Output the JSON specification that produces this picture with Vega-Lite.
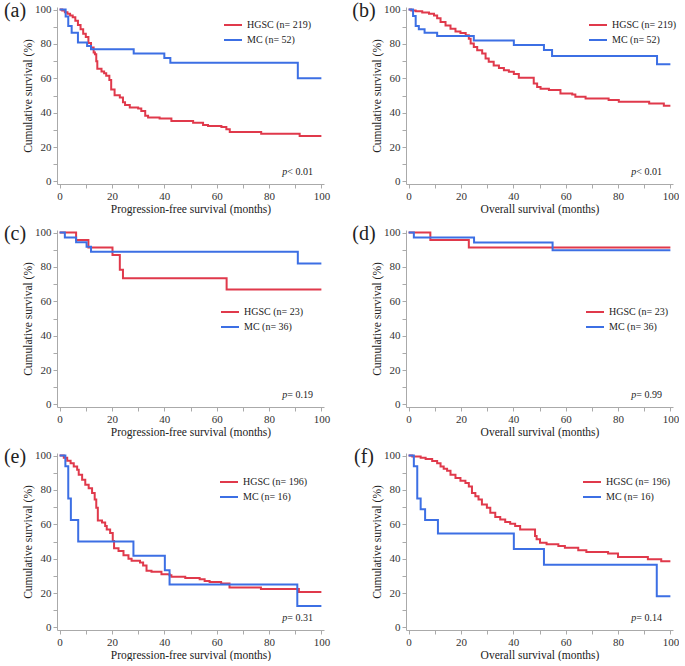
{
"$schema": "https://vega.github.io/schema/vega-lite/v6.json",
"padding": {"left": 3, "top": 1, "right": 0, "bottom": 0},
"background": "white",
"datasets": {
"surv": [
{"panel":"a","group":"HGSC","t":0,"s":100},{"panel":"a","group":"HGSC","t":1,"s":99.5},{"panel":"a","group":"HGSC","t":2,"s":98.5},{"panel":"a","group":"HGSC","t":3,"s":97.5},{"panel":"a","group":"HGSC","t":4,"s":96.5},{"panel":"a","group":"HGSC","t":5,"s":95.5},{"panel":"a","group":"HGSC","t":6,"s":93.5},{"panel":"a","group":"HGSC","t":7,"s":91},{"panel":"a","group":"HGSC","t":8,"s":88.5},{"panel":"a","group":"HGSC","t":9,"s":86},{"panel":"a","group":"HGSC","t":10,"s":84},{"panel":"a","group":"HGSC","t":11,"s":80.5},{"panel":"a","group":"HGSC","t":12,"s":78},{"panel":"a","group":"HGSC","t":13,"s":75},{"panel":"a","group":"HGSC","t":13.5,"s":74},{"panel":"a","group":"HGSC","t":14,"s":70},{"panel":"a","group":"HGSC","t":14.4,"s":65.5},{"panel":"a","group":"HGSC","t":16,"s":64},{"panel":"a","group":"HGSC","t":17,"s":63},{"panel":"a","group":"HGSC","t":17.8,"s":61.5},{"panel":"a","group":"HGSC","t":19,"s":59},{"panel":"a","group":"HGSC","t":19.7,"s":53.5},{"panel":"a","group":"HGSC","t":21,"s":50.2},{"panel":"a","group":"HGSC","t":23,"s":48.8},{"panel":"a","group":"HGSC","t":24.2,"s":46},{"panel":"a","group":"HGSC","t":25,"s":44.4},{"panel":"a","group":"HGSC","t":26.8,"s":43},{"panel":"a","group":"HGSC","t":30,"s":42.5},{"panel":"a","group":"HGSC","t":31.2,"s":41},{"panel":"a","group":"HGSC","t":32.7,"s":38.2},{"panel":"a","group":"HGSC","t":33.8,"s":37.2},{"panel":"a","group":"HGSC","t":38.2,"s":36.6},{"panel":"a","group":"HGSC","t":42.7,"s":35.2},{"panel":"a","group":"HGSC","t":51,"s":34.2},{"panel":"a","group":"HGSC","t":54.8,"s":32.9},{"panel":"a","group":"HGSC","t":56.7,"s":32.3},{"panel":"a","group":"HGSC","t":61.8,"s":31.6},{"panel":"a","group":"HGSC","t":63.7,"s":30.3},{"panel":"a","group":"HGSC","t":65,"s":28.8},{"panel":"a","group":"HGSC","t":77,"s":27.8},{"panel":"a","group":"HGSC","t":91.7,"s":26.4},{"panel":"a","group":"HGSC","t":100,"s":26.4},
{"panel":"a","group":"MC","t":0,"s":100},{"panel":"a","group":"MC","t":2.3,"s":96},{"panel":"a","group":"MC","t":3.3,"s":90.4},{"panel":"a","group":"MC","t":4.6,"s":86.5},{"panel":"a","group":"MC","t":7,"s":80.8},{"panel":"a","group":"MC","t":10.5,"s":78.8},{"panel":"a","group":"MC","t":12,"s":76.9},{"panel":"a","group":"MC","t":28.3,"s":74.5},{"panel":"a","group":"MC","t":40,"s":71.8},{"panel":"a","group":"MC","t":42.3,"s":69},{"panel":"a","group":"MC","t":91,"s":60},{"panel":"a","group":"MC","t":100,"s":60},
{"panel":"b","group":"HGSC","t":0,"s":100},{"panel":"b","group":"HGSC","t":1,"s":99.5},{"panel":"b","group":"HGSC","t":2.7,"s":99},{"panel":"b","group":"HGSC","t":5.2,"s":98.3},{"panel":"b","group":"HGSC","t":7.8,"s":97.5},{"panel":"b","group":"HGSC","t":9.7,"s":96.5},{"panel":"b","group":"HGSC","t":10.9,"s":95},{"panel":"b","group":"HGSC","t":12.2,"s":92.7},{"panel":"b","group":"HGSC","t":14.1,"s":90.8},{"panel":"b","group":"HGSC","t":16,"s":88.8},{"panel":"b","group":"HGSC","t":17.9,"s":87.3},{"panel":"b","group":"HGSC","t":19.8,"s":86.3},{"panel":"b","group":"HGSC","t":21.8,"s":85},{"panel":"b","group":"HGSC","t":23,"s":83},{"panel":"b","group":"HGSC","t":23.7,"s":80.2},{"panel":"b","group":"HGSC","t":24.9,"s":78.2},{"panel":"b","group":"HGSC","t":26.2,"s":76.3},{"panel":"b","group":"HGSC","t":28.1,"s":74.4},{"panel":"b","group":"HGSC","t":29.4,"s":71.5},{"panel":"b","group":"HGSC","t":30.6,"s":69.6},{"panel":"b","group":"HGSC","t":32.5,"s":67.5},{"panel":"b","group":"HGSC","t":34.5,"s":66},{"panel":"b","group":"HGSC","t":36.4,"s":64.7},{"panel":"b","group":"HGSC","t":38.3,"s":63.8},{"panel":"b","group":"HGSC","t":40.2,"s":62.5},{"panel":"b","group":"HGSC","t":42.1,"s":60.3},{"panel":"b","group":"HGSC","t":47.8,"s":57},{"panel":"b","group":"HGSC","t":49.1,"s":55},{"panel":"b","group":"HGSC","t":50.4,"s":54},{"panel":"b","group":"HGSC","t":53.6,"s":53.2},{"panel":"b","group":"HGSC","t":58,"s":51.2},{"panel":"b","group":"HGSC","t":62.5,"s":50.6},{"panel":"b","group":"HGSC","t":63.7,"s":49.3},{"panel":"b","group":"HGSC","t":67.6,"s":48.3},{"panel":"b","group":"HGSC","t":76.4,"s":47.4},{"panel":"b","group":"HGSC","t":80.3,"s":46.4},{"panel":"b","group":"HGSC","t":91.9,"s":45.4},{"panel":"b","group":"HGSC","t":97.5,"s":44},{"panel":"b","group":"HGSC","t":100,"s":44},
{"panel":"b","group":"MC","t":0,"s":100},{"panel":"b","group":"MC","t":1.7,"s":96.2},{"panel":"b","group":"MC","t":2.7,"s":90.4},{"panel":"b","group":"MC","t":3.9,"s":88.5},{"panel":"b","group":"MC","t":6.1,"s":86.5},{"panel":"b","group":"MC","t":10.9,"s":84.6},{"panel":"b","group":"MC","t":24.9,"s":82},{"panel":"b","group":"MC","t":40.2,"s":79.4},{"panel":"b","group":"MC","t":51.7,"s":76.5},{"panel":"b","group":"MC","t":54.8,"s":73},{"panel":"b","group":"MC","t":94.9,"s":68.2},{"panel":"b","group":"MC","t":100,"s":68.2},
{"panel":"c","group":"HGSC","t":0,"s":100},{"panel":"c","group":"HGSC","t":6.3,"s":95.7},{"panel":"c","group":"HGSC","t":11,"s":91.3},{"panel":"c","group":"HGSC","t":20.2,"s":87},{"panel":"c","group":"HGSC","t":23,"s":78.3},{"panel":"c","group":"HGSC","t":24.2,"s":73.4},{"panel":"c","group":"HGSC","t":63.8,"s":66.9},{"panel":"c","group":"HGSC","t":100,"s":66.9},
{"panel":"c","group":"MC","t":0,"s":100},{"panel":"c","group":"MC","t":2,"s":97.2},{"panel":"c","group":"MC","t":6.3,"s":94.4},{"panel":"c","group":"MC","t":10.3,"s":91.7},{"panel":"c","group":"MC","t":12,"s":88.9},{"panel":"c","group":"MC","t":91,"s":82},{"panel":"c","group":"MC","t":100,"s":82},
{"panel":"d","group":"HGSC","t":0,"s":100},{"panel":"d","group":"HGSC","t":8.3,"s":95.7},{"panel":"d","group":"HGSC","t":23,"s":91.3},{"panel":"d","group":"HGSC","t":100,"s":91.3},
{"panel":"d","group":"MC","t":0,"s":100},{"panel":"d","group":"MC","t":2,"s":97.2},{"panel":"d","group":"MC","t":25,"s":94.2},{"panel":"d","group":"MC","t":55,"s":89.7},{"panel":"d","group":"MC","t":100,"s":89.7},
{"panel":"e","group":"HGSC","t":0,"s":100},{"panel":"e","group":"HGSC","t":1.6,"s":98.8},{"panel":"e","group":"HGSC","t":2.9,"s":97},{"panel":"e","group":"HGSC","t":4.2,"s":95.6},{"panel":"e","group":"HGSC","t":5.4,"s":93.6},{"panel":"e","group":"HGSC","t":6.7,"s":91.7},{"panel":"e","group":"HGSC","t":7.3,"s":88.8},{"panel":"e","group":"HGSC","t":8.6,"s":86},{"panel":"e","group":"HGSC","t":9.8,"s":83},{"panel":"e","group":"HGSC","t":11.1,"s":81},{"panel":"e","group":"HGSC","t":12.4,"s":78.2},{"panel":"e","group":"HGSC","t":13.4,"s":74.5},{"panel":"e","group":"HGSC","t":14,"s":69.6},{"panel":"e","group":"HGSC","t":14.6,"s":62.2},{"panel":"e","group":"HGSC","t":16.2,"s":61},{"panel":"e","group":"HGSC","t":17.4,"s":59},{"panel":"e","group":"HGSC","t":18,"s":57},{"panel":"e","group":"HGSC","t":19.3,"s":55},{"panel":"e","group":"HGSC","t":20.3,"s":50.3},{"panel":"e","group":"HGSC","t":20.8,"s":46},{"panel":"e","group":"HGSC","t":22.5,"s":44.5},{"panel":"e","group":"HGSC","t":24.4,"s":42},{"panel":"e","group":"HGSC","t":26.3,"s":40},{"panel":"e","group":"HGSC","t":27.5,"s":38.8},{"panel":"e","group":"HGSC","t":30.7,"s":37.8},{"panel":"e","group":"HGSC","t":31.9,"s":36},{"panel":"e","group":"HGSC","t":33.2,"s":33},{"panel":"e","group":"HGSC","t":35.1,"s":32.4},{"panel":"e","group":"HGSC","t":38.9,"s":31},{"panel":"e","group":"HGSC","t":42,"s":30.4},{"panel":"e","group":"HGSC","t":42.7,"s":29.5},{"panel":"e","group":"HGSC","t":48,"s":28.8},{"panel":"e","group":"HGSC","t":53.5,"s":28},{"panel":"e","group":"HGSC","t":55.4,"s":27},{"panel":"e","group":"HGSC","t":57.3,"s":26.5},{"panel":"e","group":"HGSC","t":61.7,"s":25.5},{"panel":"e","group":"HGSC","t":64.9,"s":23.3},{"panel":"e","group":"HGSC","t":76.9,"s":22.4},{"panel":"e","group":"HGSC","t":91.4,"s":20.6},{"panel":"e","group":"HGSC","t":100,"s":20.6},
{"panel":"e","group":"MC","t":0,"s":100},{"panel":"e","group":"MC","t":2.2,"s":93.75},{"panel":"e","group":"MC","t":3.3,"s":75},{"panel":"e","group":"MC","t":4.3,"s":62.5},{"panel":"e","group":"MC","t":7.1,"s":50},{"panel":"e","group":"MC","t":28.2,"s":41.7},{"panel":"e","group":"MC","t":40.2,"s":33.3},{"panel":"e","group":"MC","t":42,"s":25},{"panel":"e","group":"MC","t":90.8,"s":12.5},{"panel":"e","group":"MC","t":100,"s":12.5},
{"panel":"f","group":"HGSC","t":0,"s":100},{"panel":"f","group":"HGSC","t":1.4,"s":99.4},{"panel":"f","group":"HGSC","t":4.6,"s":98.8},{"panel":"f","group":"HGSC","t":6.5,"s":98},{"panel":"f","group":"HGSC","t":9,"s":96.9},{"panel":"f","group":"HGSC","t":10.9,"s":95.6},{"panel":"f","group":"HGSC","t":12.2,"s":93.6},{"panel":"f","group":"HGSC","t":13.4,"s":92.3},{"panel":"f","group":"HGSC","t":14.7,"s":91.1},{"panel":"f","group":"HGSC","t":16,"s":88.8},{"panel":"f","group":"HGSC","t":17.9,"s":86.9},{"panel":"f","group":"HGSC","t":19.8,"s":85.4},{"panel":"f","group":"HGSC","t":21.7,"s":84},{"panel":"f","group":"HGSC","t":23,"s":82},{"panel":"f","group":"HGSC","t":24.2,"s":78.2},{"panel":"f","group":"HGSC","t":25.5,"s":76.3},{"panel":"f","group":"HGSC","t":26.7,"s":74.4},{"panel":"f","group":"HGSC","t":28,"s":71.5},{"panel":"f","group":"HGSC","t":29.9,"s":69.6},{"panel":"f","group":"HGSC","t":31.2,"s":66.7},{"panel":"f","group":"HGSC","t":33.1,"s":64.2},{"panel":"f","group":"HGSC","t":35,"s":62.8},{"panel":"f","group":"HGSC","t":36.9,"s":61.3},{"panel":"f","group":"HGSC","t":38.8,"s":60.3},{"panel":"f","group":"HGSC","t":40.7,"s":59},{"panel":"f","group":"HGSC","t":42.6,"s":57},{"panel":"f","group":"HGSC","t":48.3,"s":53.2},{"panel":"f","group":"HGSC","t":48.9,"s":51.3},{"panel":"f","group":"HGSC","t":50.2,"s":49.3},{"panel":"f","group":"HGSC","t":52.7,"s":48.4},{"panel":"f","group":"HGSC","t":57.2,"s":47.4},{"panel":"f","group":"HGSC","t":59.7,"s":46.4},{"panel":"f","group":"HGSC","t":64.8,"s":44.9},{"panel":"f","group":"HGSC","t":67.9,"s":43.9},{"panel":"f","group":"HGSC","t":76.2,"s":43},{"panel":"f","group":"HGSC","t":80,"s":41},{"panel":"f","group":"HGSC","t":91.4,"s":39.7},{"panel":"f","group":"HGSC","t":96.5,"s":38.5},{"panel":"f","group":"HGSC","t":100,"s":38.5},
{"panel":"f","group":"MC","t":0,"s":100},{"panel":"f","group":"MC","t":2,"s":93.75},{"panel":"f","group":"MC","t":3.3,"s":75},{"panel":"f","group":"MC","t":4.6,"s":68.75},{"panel":"f","group":"MC","t":6.3,"s":62.5},{"panel":"f","group":"MC","t":11.2,"s":54.7},{"panel":"f","group":"MC","t":40.2,"s":45.6},{"panel":"f","group":"MC","t":51.7,"s":36.5},{"panel":"f","group":"MC","t":94.8,"s":18.2},{"panel":"f","group":"MC","t":100,"s":18.2}
],
"notes": [
{"panel":"a","tag":"(a)","pv":"< 0.01"},
{"panel":"b","tag":"(b)","pv":"< 0.01"},
{"panel":"c","tag":"(c)","pv":"= 0.19"},
{"panel":"d","tag":"(d)","pv":"= 0.99"},
{"panel":"e","tag":"(e)","pv":"= 0.31"},
{"panel":"f","tag":"(f)","pv":"= 0.14"}
]
},
"columns": 2,
"spacing": {"row": 9, "column": 22},
"resolve": {"scale": {"color": "independent"}, "legend": {"color": "independent"}},
"concat": [
{"width": 267, "height": 177, "layer": [
 {"data": {"name": "surv"}, "transform": [{"filter": "datum.panel == 'a'"}], "mark": {"type": "line", "interpolate": "step-after", "strokeWidth": 2},
  "encoding": {
   "x": {"field": "t", "type": "quantitative", "scale": {"domain": [-1, 101], "nice": false, "zero": false}, "axis": {"title": "Progression-free survival (months)", "values": [0,10,20,30,40,50,60,70,80,90,100], "labelOverlap": false, "labelExpr": "datum.value % 20 == 0 ? datum.label : ''"}},
   "y": {"field": "s", "type": "quantitative", "scale": {"domain": [-1.5, 101.5], "nice": false, "zero": false}, "axis": {"title": "Cumulative survival (%)", "values": [0,10,20,30,40,50,60,70,80,90,100], "labelOverlap": false, "labelExpr": "datum.value % 20 == 0 ? datum.label : ''"}},
   "color": {"field": "group", "type": "nominal", "scale": {"domain": ["HGSC", "MC"], "range": ["#e0394b", "#3c6fe4"]}, "legend": {"title": null, "orient": "none", "legendX": 166, "legendY": 8, "labelExpr": "datum.label == 'HGSC' ? 'HGSC (n= 219)' : 'MC (n= 52)'"}}
  }},
 {"data": {"name": "notes"}, "transform": [{"filter": "datum.panel == 'a'"}], "mark": {"type": "text", "align": "right", "baseline": "middle", "fontStyle": "italic", "fontSize": 10}, "encoding": {
   "x": {"datum": 87, "type": "quantitative", "axis": {"title": "Progression-free survival (months)", "values": [0,10,20,30,40,50,60,70,80,90,100], "labelOverlap": false, "labelExpr": "datum.value % 20 == 0 ? datum.label : ''"}},
   "y": {"datum": 5.4, "type": "quantitative", "axis": {"title": "Cumulative survival (%)", "values": [0,10,20,30,40,50,60,70,80,90,100], "labelOverlap": false, "labelExpr": "datum.value % 20 == 0 ? datum.label : ''"}},
   "text": {"value": "p"}}},
 {"data": {"name": "notes"}, "transform": [{"filter": "datum.panel == 'a'"}], "mark": {"type": "text", "align": "left", "baseline": "middle", "fontSize": 10}, "encoding": {
   "x": {"datum": 87, "type": "quantitative", "axis": {"title": "Progression-free survival (months)", "values": [0,10,20,30,40,50,60,70,80,90,100], "labelOverlap": false, "labelExpr": "datum.value % 20 == 0 ? datum.label : ''"}},
   "y": {"datum": 5.4, "type": "quantitative", "axis": {"title": "Cumulative survival (%)", "values": [0,10,20,30,40,50,60,70,80,90,100], "labelOverlap": false, "labelExpr": "datum.value % 20 == 0 ? datum.label : ''"}},
   "text": {"field": "pv"}}},
 {"data": {"name": "notes"}, "transform": [{"filter": "datum.panel == 'a'"}], "mark": {"type": "text", "align": "center", "baseline": "middle", "fontSize": 20, "dx": -42, "dy": 4}, "encoding": {
   "x": {"datum": -1, "type": "quantitative", "axis": {"title": "Progression-free survival (months)", "values": [0,10,20,30,40,50,60,70,80,90,100], "labelOverlap": false, "labelExpr": "datum.value % 20 == 0 ? datum.label : ''"}},
   "y": {"datum": 101.5, "type": "quantitative", "axis": {"title": "Cumulative survival (%)", "values": [0,10,20,30,40,50,60,70,80,90,100], "labelOverlap": false, "labelExpr": "datum.value % 20 == 0 ? datum.label : ''"}},
   "text": {"field": "tag"}}}
]},
{"width": 267, "height": 177, "layer": [
 {"data": {"name": "surv"}, "transform": [{"filter": "datum.panel == 'b'"}], "mark": {"type": "line", "interpolate": "step-after", "strokeWidth": 2},
  "encoding": {
   "x": {"field": "t", "type": "quantitative", "scale": {"domain": [-1, 101], "nice": false, "zero": false}, "axis": {"title": "Overall survival (months)", "values": [0,10,20,30,40,50,60,70,80,90,100], "labelOverlap": false, "labelExpr": "datum.value % 20 == 0 ? datum.label : ''"}},
   "y": {"field": "s", "type": "quantitative", "scale": {"domain": [-1.5, 101.5], "nice": false, "zero": false}, "axis": {"title": "Cumulative survival (%)", "values": [0,10,20,30,40,50,60,70,80,90,100], "labelOverlap": false, "labelExpr": "datum.value % 20 == 0 ? datum.label : ''"}},
   "color": {"field": "group", "type": "nominal", "scale": {"domain": ["HGSC", "MC"], "range": ["#e0394b", "#3c6fe4"]}, "legend": {"title": null, "orient": "none", "legendX": 182, "legendY": 8, "labelExpr": "datum.label == 'HGSC' ? 'HGSC (n= 219)' : 'MC (n= 52)'"}}
  }},
 {"data": {"name": "notes"}, "transform": [{"filter": "datum.panel == 'b'"}], "mark": {"type": "text", "align": "right", "baseline": "middle", "fontStyle": "italic", "fontSize": 10}, "encoding": {
   "x": {"datum": 87, "type": "quantitative", "axis": {"title": "Overall survival (months)", "values": [0,10,20,30,40,50,60,70,80,90,100], "labelOverlap": false, "labelExpr": "datum.value % 20 == 0 ? datum.label : ''"}},
   "y": {"datum": 5.4, "type": "quantitative", "axis": {"title": "Cumulative survival (%)", "values": [0,10,20,30,40,50,60,70,80,90,100], "labelOverlap": false, "labelExpr": "datum.value % 20 == 0 ? datum.label : ''"}},
   "text": {"value": "p"}}},
 {"data": {"name": "notes"}, "transform": [{"filter": "datum.panel == 'b'"}], "mark": {"type": "text", "align": "left", "baseline": "middle", "fontSize": 10}, "encoding": {
   "x": {"datum": 87, "type": "quantitative", "axis": {"title": "Overall survival (months)", "values": [0,10,20,30,40,50,60,70,80,90,100], "labelOverlap": false, "labelExpr": "datum.value % 20 == 0 ? datum.label : ''"}},
   "y": {"datum": 5.4, "type": "quantitative", "axis": {"title": "Cumulative survival (%)", "values": [0,10,20,30,40,50,60,70,80,90,100], "labelOverlap": false, "labelExpr": "datum.value % 20 == 0 ? datum.label : ''"}},
   "text": {"field": "pv"}}},
 {"data": {"name": "notes"}, "transform": [{"filter": "datum.panel == 'b'"}], "mark": {"type": "text", "align": "center", "baseline": "middle", "fontSize": 20, "dx": -42, "dy": 4}, "encoding": {
   "x": {"datum": -1, "type": "quantitative", "axis": {"title": "Overall survival (months)", "values": [0,10,20,30,40,50,60,70,80,90,100], "labelOverlap": false, "labelExpr": "datum.value % 20 == 0 ? datum.label : ''"}},
   "y": {"datum": 101.5, "type": "quantitative", "axis": {"title": "Cumulative survival (%)", "values": [0,10,20,30,40,50,60,70,80,90,100], "labelOverlap": false, "labelExpr": "datum.value % 20 == 0 ? datum.label : ''"}},
   "text": {"field": "tag"}}}
]},
{"width": 267, "height": 177, "layer": [
 {"data": {"name": "surv"}, "transform": [{"filter": "datum.panel == 'c'"}], "mark": {"type": "line", "interpolate": "step-after", "strokeWidth": 2},
  "encoding": {
   "x": {"field": "t", "type": "quantitative", "scale": {"domain": [-1, 101], "nice": false, "zero": false}, "axis": {"title": "Progression-free survival (months)", "values": [0,10,20,30,40,50,60,70,80,90,100], "labelOverlap": false, "labelExpr": "datum.value % 20 == 0 ? datum.label : ''"}},
   "y": {"field": "s", "type": "quantitative", "scale": {"domain": [-1.5, 101.5], "nice": false, "zero": false}, "axis": {"title": "Cumulative survival (%)", "values": [0,10,20,30,40,50,60,70,80,90,100], "labelOverlap": false, "labelExpr": "datum.value % 20 == 0 ? datum.label : ''"}},
   "color": {"field": "group", "type": "nominal", "scale": {"domain": ["HGSC", "MC"], "range": ["#e0394b", "#3c6fe4"]}, "legend": {"title": null, "orient": "none", "legendX": 163, "legendY": 72, "labelExpr": "datum.label == 'HGSC' ? 'HGSC (n= 23)' : 'MC (n= 36)'"}}
  }},
 {"data": {"name": "notes"}, "transform": [{"filter": "datum.panel == 'c'"}], "mark": {"type": "text", "align": "right", "baseline": "middle", "fontStyle": "italic", "fontSize": 10}, "encoding": {
   "x": {"datum": 87, "type": "quantitative", "axis": {"title": "Progression-free survival (months)", "values": [0,10,20,30,40,50,60,70,80,90,100], "labelOverlap": false, "labelExpr": "datum.value % 20 == 0 ? datum.label : ''"}},
   "y": {"datum": 5.4, "type": "quantitative", "axis": {"title": "Cumulative survival (%)", "values": [0,10,20,30,40,50,60,70,80,90,100], "labelOverlap": false, "labelExpr": "datum.value % 20 == 0 ? datum.label : ''"}},
   "text": {"value": "p"}}},
 {"data": {"name": "notes"}, "transform": [{"filter": "datum.panel == 'c'"}], "mark": {"type": "text", "align": "left", "baseline": "middle", "fontSize": 10}, "encoding": {
   "x": {"datum": 87, "type": "quantitative", "axis": {"title": "Progression-free survival (months)", "values": [0,10,20,30,40,50,60,70,80,90,100], "labelOverlap": false, "labelExpr": "datum.value % 20 == 0 ? datum.label : ''"}},
   "y": {"datum": 5.4, "type": "quantitative", "axis": {"title": "Cumulative survival (%)", "values": [0,10,20,30,40,50,60,70,80,90,100], "labelOverlap": false, "labelExpr": "datum.value % 20 == 0 ? datum.label : ''"}},
   "text": {"field": "pv"}}},
 {"data": {"name": "notes"}, "transform": [{"filter": "datum.panel == 'c'"}], "mark": {"type": "text", "align": "center", "baseline": "middle", "fontSize": 20, "dx": -42, "dy": 4}, "encoding": {
   "x": {"datum": -1, "type": "quantitative", "axis": {"title": "Progression-free survival (months)", "values": [0,10,20,30,40,50,60,70,80,90,100], "labelOverlap": false, "labelExpr": "datum.value % 20 == 0 ? datum.label : ''"}},
   "y": {"datum": 101.5, "type": "quantitative", "axis": {"title": "Cumulative survival (%)", "values": [0,10,20,30,40,50,60,70,80,90,100], "labelOverlap": false, "labelExpr": "datum.value % 20 == 0 ? datum.label : ''"}},
   "text": {"field": "tag"}}}
]},
{"width": 267, "height": 177, "layer": [
 {"data": {"name": "surv"}, "transform": [{"filter": "datum.panel == 'd'"}], "mark": {"type": "line", "interpolate": "step-after", "strokeWidth": 2},
  "encoding": {
   "x": {"field": "t", "type": "quantitative", "scale": {"domain": [-1, 101], "nice": false, "zero": false}, "axis": {"title": "Overall survival (months)", "values": [0,10,20,30,40,50,60,70,80,90,100], "labelOverlap": false, "labelExpr": "datum.value % 20 == 0 ? datum.label : ''"}},
   "y": {"field": "s", "type": "quantitative", "scale": {"domain": [-1.5, 101.5], "nice": false, "zero": false}, "axis": {"title": "Cumulative survival (%)", "values": [0,10,20,30,40,50,60,70,80,90,100], "labelOverlap": false, "labelExpr": "datum.value % 20 == 0 ? datum.label : ''"}},
   "color": {"field": "group", "type": "nominal", "scale": {"domain": ["HGSC", "MC"], "range": ["#e0394b", "#3c6fe4"]}, "legend": {"title": null, "orient": "none", "legendX": 179, "legendY": 72, "labelExpr": "datum.label == 'HGSC' ? 'HGSC (n= 23)' : 'MC (n= 36)'"}}
  }},
 {"data": {"name": "notes"}, "transform": [{"filter": "datum.panel == 'd'"}], "mark": {"type": "text", "align": "right", "baseline": "middle", "fontStyle": "italic", "fontSize": 10}, "encoding": {
   "x": {"datum": 87, "type": "quantitative", "axis": {"title": "Overall survival (months)", "values": [0,10,20,30,40,50,60,70,80,90,100], "labelOverlap": false, "labelExpr": "datum.value % 20 == 0 ? datum.label : ''"}},
   "y": {"datum": 5.4, "type": "quantitative", "axis": {"title": "Cumulative survival (%)", "values": [0,10,20,30,40,50,60,70,80,90,100], "labelOverlap": false, "labelExpr": "datum.value % 20 == 0 ? datum.label : ''"}},
   "text": {"value": "p"}}},
 {"data": {"name": "notes"}, "transform": [{"filter": "datum.panel == 'd'"}], "mark": {"type": "text", "align": "left", "baseline": "middle", "fontSize": 10}, "encoding": {
   "x": {"datum": 87, "type": "quantitative", "axis": {"title": "Overall survival (months)", "values": [0,10,20,30,40,50,60,70,80,90,100], "labelOverlap": false, "labelExpr": "datum.value % 20 == 0 ? datum.label : ''"}},
   "y": {"datum": 5.4, "type": "quantitative", "axis": {"title": "Cumulative survival (%)", "values": [0,10,20,30,40,50,60,70,80,90,100], "labelOverlap": false, "labelExpr": "datum.value % 20 == 0 ? datum.label : ''"}},
   "text": {"field": "pv"}}},
 {"data": {"name": "notes"}, "transform": [{"filter": "datum.panel == 'd'"}], "mark": {"type": "text", "align": "center", "baseline": "middle", "fontSize": 20, "dx": -42, "dy": 4}, "encoding": {
   "x": {"datum": -1, "type": "quantitative", "axis": {"title": "Overall survival (months)", "values": [0,10,20,30,40,50,60,70,80,90,100], "labelOverlap": false, "labelExpr": "datum.value % 20 == 0 ? datum.label : ''"}},
   "y": {"datum": 101.5, "type": "quantitative", "axis": {"title": "Cumulative survival (%)", "values": [0,10,20,30,40,50,60,70,80,90,100], "labelOverlap": false, "labelExpr": "datum.value % 20 == 0 ? datum.label : ''"}},
   "text": {"field": "tag"}}}
]},
{"width": 267, "height": 177, "layer": [
 {"data": {"name": "surv"}, "transform": [{"filter": "datum.panel == 'e'"}], "mark": {"type": "line", "interpolate": "step-after", "strokeWidth": 2},
  "encoding": {
   "x": {"field": "t", "type": "quantitative", "scale": {"domain": [-1, 101], "nice": false, "zero": false}, "axis": {"title": "Progression-free survival (months)", "values": [0,10,20,30,40,50,60,70,80,90,100], "labelOverlap": false, "labelExpr": "datum.value % 20 == 0 ? datum.label : ''"}},
   "y": {"field": "s", "type": "quantitative", "scale": {"domain": [-1.5, 101.5], "nice": false, "zero": false}, "axis": {"title": "Cumulative survival (%)", "values": [0,10,20,30,40,50,60,70,80,90,100], "labelOverlap": false, "labelExpr": "datum.value % 20 == 0 ? datum.label : ''"}},
   "color": {"field": "group", "type": "nominal", "scale": {"domain": ["HGSC", "MC"], "range": ["#e0394b", "#3c6fe4"]}, "legend": {"title": null, "orient": "none", "legendX": 162, "legendY": 19, "labelExpr": "datum.label == 'HGSC' ? 'HGSC (n= 196)' : 'MC (n= 16)'"}}
  }},
 {"data": {"name": "notes"}, "transform": [{"filter": "datum.panel == 'e'"}], "mark": {"type": "text", "align": "right", "baseline": "middle", "fontStyle": "italic", "fontSize": 10}, "encoding": {
   "x": {"datum": 87, "type": "quantitative", "axis": {"title": "Progression-free survival (months)", "values": [0,10,20,30,40,50,60,70,80,90,100], "labelOverlap": false, "labelExpr": "datum.value % 20 == 0 ? datum.label : ''"}},
   "y": {"datum": 5.4, "type": "quantitative", "axis": {"title": "Cumulative survival (%)", "values": [0,10,20,30,40,50,60,70,80,90,100], "labelOverlap": false, "labelExpr": "datum.value % 20 == 0 ? datum.label : ''"}},
   "text": {"value": "p"}}},
 {"data": {"name": "notes"}, "transform": [{"filter": "datum.panel == 'e'"}], "mark": {"type": "text", "align": "left", "baseline": "middle", "fontSize": 10}, "encoding": {
   "x": {"datum": 87, "type": "quantitative", "axis": {"title": "Progression-free survival (months)", "values": [0,10,20,30,40,50,60,70,80,90,100], "labelOverlap": false, "labelExpr": "datum.value % 20 == 0 ? datum.label : ''"}},
   "y": {"datum": 5.4, "type": "quantitative", "axis": {"title": "Cumulative survival (%)", "values": [0,10,20,30,40,50,60,70,80,90,100], "labelOverlap": false, "labelExpr": "datum.value % 20 == 0 ? datum.label : ''"}},
   "text": {"field": "pv"}}},
 {"data": {"name": "notes"}, "transform": [{"filter": "datum.panel == 'e'"}], "mark": {"type": "text", "align": "center", "baseline": "middle", "fontSize": 20, "dx": -42, "dy": 4}, "encoding": {
   "x": {"datum": -1, "type": "quantitative", "axis": {"title": "Progression-free survival (months)", "values": [0,10,20,30,40,50,60,70,80,90,100], "labelOverlap": false, "labelExpr": "datum.value % 20 == 0 ? datum.label : ''"}},
   "y": {"datum": 101.5, "type": "quantitative", "axis": {"title": "Cumulative survival (%)", "values": [0,10,20,30,40,50,60,70,80,90,100], "labelOverlap": false, "labelExpr": "datum.value % 20 == 0 ? datum.label : ''"}},
   "text": {"field": "tag"}}}
]},
{"width": 267, "height": 177, "layer": [
 {"data": {"name": "surv"}, "transform": [{"filter": "datum.panel == 'f'"}], "mark": {"type": "line", "interpolate": "step-after", "strokeWidth": 2},
  "encoding": {
   "x": {"field": "t", "type": "quantitative", "scale": {"domain": [-1, 101], "nice": false, "zero": false}, "axis": {"title": "Overall survival (months)", "values": [0,10,20,30,40,50,60,70,80,90,100], "labelOverlap": false, "labelExpr": "datum.value % 20 == 0 ? datum.label : ''"}},
   "y": {"field": "s", "type": "quantitative", "scale": {"domain": [-1.5, 101.5], "nice": false, "zero": false}, "axis": {"title": "Cumulative survival (%)", "values": [0,10,20,30,40,50,60,70,80,90,100], "labelOverlap": false, "labelExpr": "datum.value % 20 == 0 ? datum.label : ''"}},
   "color": {"field": "group", "type": "nominal", "scale": {"domain": ["HGSC", "MC"], "range": ["#e0394b", "#3c6fe4"]}, "legend": {"title": null, "orient": "none", "legendX": 176, "legendY": 19, "labelExpr": "datum.label == 'HGSC' ? 'HGSC (n= 196)' : 'MC (n= 16)'"}}
  }},
 {"data": {"name": "notes"}, "transform": [{"filter": "datum.panel == 'f'"}], "mark": {"type": "text", "align": "right", "baseline": "middle", "fontStyle": "italic", "fontSize": 10}, "encoding": {
   "x": {"datum": 87, "type": "quantitative", "axis": {"title": "Overall survival (months)", "values": [0,10,20,30,40,50,60,70,80,90,100], "labelOverlap": false, "labelExpr": "datum.value % 20 == 0 ? datum.label : ''"}},
   "y": {"datum": 5.4, "type": "quantitative", "axis": {"title": "Cumulative survival (%)", "values": [0,10,20,30,40,50,60,70,80,90,100], "labelOverlap": false, "labelExpr": "datum.value % 20 == 0 ? datum.label : ''"}},
   "text": {"value": "p"}}},
 {"data": {"name": "notes"}, "transform": [{"filter": "datum.panel == 'f'"}], "mark": {"type": "text", "align": "left", "baseline": "middle", "fontSize": 10}, "encoding": {
   "x": {"datum": 87, "type": "quantitative", "axis": {"title": "Overall survival (months)", "values": [0,10,20,30,40,50,60,70,80,90,100], "labelOverlap": false, "labelExpr": "datum.value % 20 == 0 ? datum.label : ''"}},
   "y": {"datum": 5.4, "type": "quantitative", "axis": {"title": "Cumulative survival (%)", "values": [0,10,20,30,40,50,60,70,80,90,100], "labelOverlap": false, "labelExpr": "datum.value % 20 == 0 ? datum.label : ''"}},
   "text": {"field": "pv"}}},
 {"data": {"name": "notes"}, "transform": [{"filter": "datum.panel == 'f'"}], "mark": {"type": "text", "align": "center", "baseline": "middle", "fontSize": 20, "dx": -42, "dy": 4}, "encoding": {
   "x": {"datum": -1, "type": "quantitative", "axis": {"title": "Overall survival (months)", "values": [0,10,20,30,40,50,60,70,80,90,100], "labelOverlap": false, "labelExpr": "datum.value % 20 == 0 ? datum.label : ''"}},
   "y": {"datum": 101.5, "type": "quantitative", "axis": {"title": "Cumulative survival (%)", "values": [0,10,20,30,40,50,60,70,80,90,100], "labelOverlap": false, "labelExpr": "datum.value % 20 == 0 ? datum.label : ''"}},
   "text": {"field": "tag"}}}
]}
],
"config": {
 "view": {"stroke": null},
 "font": "Liberation Serif",
 "text": {"font": "Liberation Serif", "color": "#222"},
 "axis": {"grid": false, "domainColor": "#aaa", "tickColor": "#aaa", "tickSize": 4, "labelFont": "Liberation Serif", "labelFontSize": 11, "labelColor": "#333", "labelPadding": 2, "labelOverlap": false, "titleFont": "Liberation Serif", "titleFontSize": 11.5, "titleFontWeight": "normal", "titleColor": "#222"},
 "axisX": {"titlePadding": 2, "labelFlush": false},
 "axisY": {"titlePadding": 1, "labelOverlap": false},
 "legend": {"symbolType": "stroke", "symbolSize": 324, "symbolStrokeWidth": 2, "labelFont": "Liberation Serif", "labelFontSize": 10, "labelColor": "#222", "rowPadding": -4, "padding": 0, "labelOffset": 4}
}
}
